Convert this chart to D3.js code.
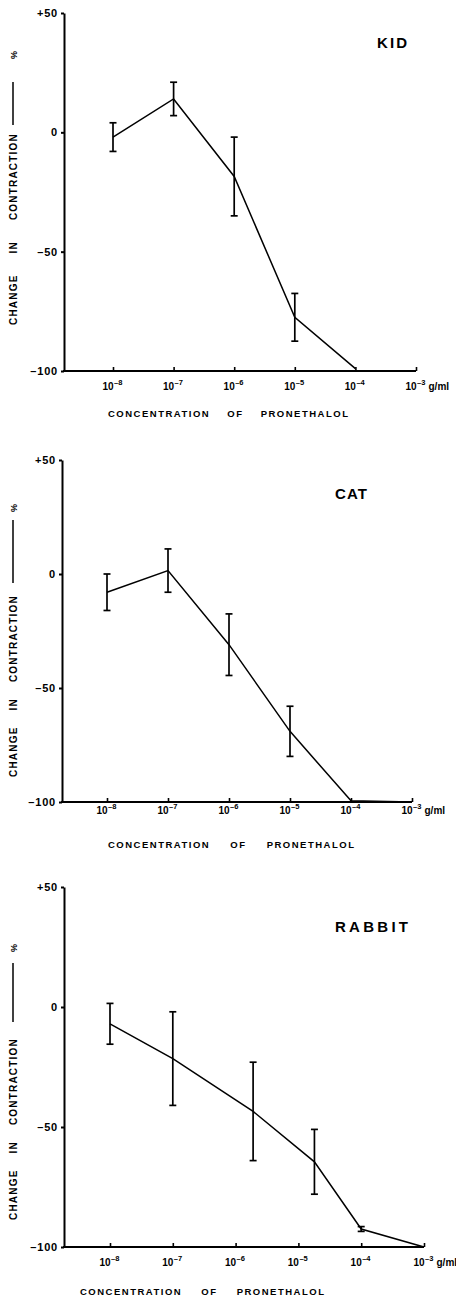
<!DOCTYPE html>
<html>
<head>
<meta charset="utf-8">
<script src="https://cdn.jsdelivr.net/npm/d3@7"></script>
<style>
	body { margin: 0; background: #fff; }
	svg text { font-family: "Liberation Sans", Arial, sans-serif; font-weight: bold; fill: #000; }
</style>
</head>
<body>
<svg id="chart" width="456" height="1298"></svg>
<script>
// tick values and labels
var yTicks = [50, 0, -50, -100];
var yTickLabels = ["+50", "0", "\u201350", "\u2013100"];
var xTicks = [1e-8, 1e-7, 1e-6, 1e-5, 1e-4, 1e-3];
var xTickExponents = ["\u20138", "\u20137", "\u20136", "\u20135", "\u20134", "\u20133"];
var xUnit = "g/ml";
var xTitle = "CONCENTRATION OF PRONETHALOL";
var yTitle = "CHANGE IN CONTRACTION";

// kid: concentration (g/ml), mean change (%), error (%)
var kidConc = [1e-8, 1e-7, 1e-6, 1e-5, 1e-4];
var kidMean = [-2, 14, -18.5, -77.5, -99];
var kidErr = [6, 7, 16.5, 10, 0];

// cat
var catConc = [1e-8, 1e-7, 1e-6, 1e-5, 1e-4, 1e-3];
var catMean = [-8, 1.5, -31, -69, -99.5, -100];
var catErr = [8, 9.5, 13.5, 11, 0, 0];

// rabbit
var rabbitConc = [1e-8, 1e-7, 1.9e-6, 1.8e-5, 1e-4, 1e-3];
var rabbitMean = [-7, -21.5, -43.5, -64.5, -92.5, -100];
var rabbitErr = [8.5, 19.5, 20.5, 13.5, 1, 0];

// layout of each panel on the page
// xt: [x, baseline, word spacing], yt: [bottom, word spacing, dash top, dash bottom, % y]
var panels = [
	{ name: "KID", conc: kidConc, mean: kidMean, err: kidErr,
		left: 64, x8: 113, x3: 416, top: 13, bottom: 371, tickDy: 19,
		title: [377, 48, 30], xt: [108, 417, 13], yt: [325, 17, 82, 125, 55] },
	{ name: "CAT", conc: catConc, mean: catMean, err: catErr,
		left: 62, x8: 107, x3: 412, top: 460, bottom: 802, tickDy: 12,
		title: [335, 499, 32], xt: [108, 848, 16], yt: [777, 12, 520, 583, 508] },
	{ name: "RABBIT", conc: rabbitConc, mean: rabbitMean, err: rabbitErr,
		left: 64, x8: 110, x3: 424, top: 887, bottom: 1247, tickDy: 19,
		title: [335, 932, 73], xt: [80, 1295, 15], yt: [1220, 12, 963, 1022, 948] }
];

var svg = d3.select("#chart");
panels.forEach(drawPanel);

function drawPanel (p) {
	var g = svg.append("g");
	var x = d3.scaleLog().domain([1e-8, 1e-3]).range([p.x8, p.x3]);
	var y = d3.scaleLinear().domain([-100, 50]).range([p.bottom, p.top]);

	// y axis
	var yAxis = g.append("g")
		.attr("transform", "translate(" + p.left + ",0)")
		.call(d3.axisLeft(y).tickValues(yTicks).tickSize(3).tickSizeOuter(0).tickPadding(3)
			.tickFormat(function (d, i) { return yTickLabels[i]; }));
	yAxis.attr("font-family", null).attr("font-size", 11);
	yAxis.selectAll("text").attr("letter-spacing", 0.8);
	yAxis.selectAll("path, line").attr("stroke", "#000").attr("stroke-width", 2);

	// x axis
	var xAxis = g.append("g")
		.attr("transform", "translate(0," + p.bottom + ")")
		.call(d3.axisBottom(x).tickValues(xTicks).tickSizeInner(-4).tickSizeOuter(0).tickFormat(""));
	xAxis.select(".domain").remove();
	xAxis.selectAll("line").attr("stroke", "#000").attr("stroke-width", 1.6);
	xAxis.append("line")
		.attr("x1", p.left - 1)
		.attr("x2", p.x3)
		.attr("stroke", "#000")
		.attr("stroke-width", 2);
	xAxis.selectAll(".tick").each(function (d, i) {
		var t = d3.select(this);
		t.append("text").attr("x", 0).attr("y", p.tickDy)
			.attr("text-anchor", "end").attr("font-size", 10).text("10");
		t.append("text").attr("x", 0.5).attr("y", p.tickDy - 5)
			.attr("text-anchor", "start").attr("font-size", 7.5).text(xTickExponents[i]);
		if (i === xTicks.length - 1) {
			t.append("text").attr("x", 12).attr("y", p.tickDy)
				.attr("text-anchor", "start").attr("font-size", 10).text(xUnit);
		}
	});

	// axis titles
	g.append("text")
		.attr("x", p.xt[0]).attr("y", p.xt[1])
		.attr("font-size", 9.5)
		.attr("letter-spacing", 1.5)
		.attr("word-spacing", p.xt[2])
		.text(xTitle);

	g.append("text")
		.attr("transform", "translate(17," + p.yt[0] + ") rotate(-90)")
		.attr("font-size", 10)
		.attr("letter-spacing", 1.2)
		.attr("word-spacing", p.yt[1])
		.text(yTitle);
	g.append("line")
		.attr("x1", 13).attr("x2", 13)
		.attr("y1", p.yt[2]).attr("y2", p.yt[3])
		.attr("stroke", "#000").attr("stroke-width", 1.5);
	g.append("text")
		.attr("transform", "translate(17," + p.yt[4] + ") rotate(-90)")
		.attr("text-anchor", "middle")
		.attr("font-size", 9)
		.text("%");

	// species name
	g.append("text")
		.attr("x", p.title[0]).attr("y", p.title[1])
		.attr("font-size", 15)
		.attr("textLength", p.title[2]).attr("lengthAdjust", "spacing")
		.text(p.name);

	var pts = p.conc.map(function (c, i) {
		return { c: c, m: p.mean[i], e: p.err[i] };
	});

	g.append("path")
		.datum(pts)
		.attr("fill", "none")
		.attr("stroke", "#000")
		.attr("stroke-width", 1.5)
		.attr("d", d3.line().x(function (d) { return x(d.c); }).y(function (d) { return y(d.m); }));

	var bars = g.selectAll(".err")
		.data(pts.filter(function (d) { return d.e > 0; }))
		.enter().append("g")
		.attr("class", "err")
		.attr("stroke", "#000")
		.attr("stroke-width", 1.7);
	bars.append("line")
		.attr("x1", function (d) { return x(d.c); })
		.attr("x2", function (d) { return x(d.c); })
		.attr("y1", function (d) { return y(d.m + d.e); })
		.attr("y2", function (d) { return y(d.m - d.e); });
	[1, -1].forEach(function (s) {
		bars.append("line")
			.attr("x1", function (d) { return x(d.c) - 3.5; })
			.attr("x2", function (d) { return x(d.c) + 3.5; })
			.attr("y1", function (d) { return y(d.m + s * d.e); })
			.attr("y2", function (d) { return y(d.m + s * d.e); });
	});
}
</script>
</body>
</html>
